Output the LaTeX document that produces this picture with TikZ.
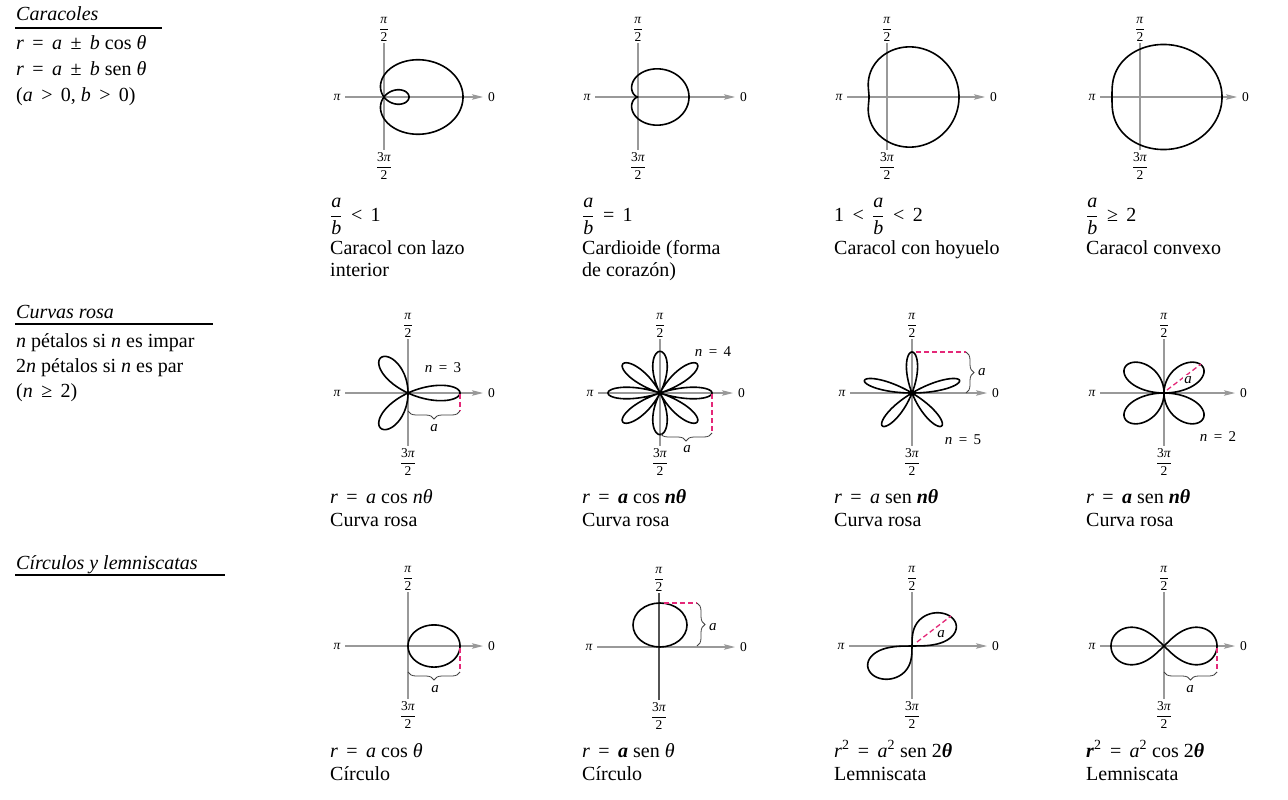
\documentclass[tikz,border=0pt]{standalone}
\usepackage{fix-cm}
\usepackage{amsmath}
\usepackage{fontspec}
\setmainfont{Liberation Serif}
\usetikzlibrary{arrows.meta,decorations.pathreplacing}
\definecolor{pk}{RGB}{228,40,120}
\newcommand{\vi}[1]{\textit{#1}}
\newcommand{\vb}[1]{\textbf{\textit{#1}}}
\newcommand{\sop}[1]{\hspace{0.42em}#1\hspace{0.42em}}
\newcommand{\fr}[2]{$\displaystyle\frac{\mbox{#1}}{\mbox{#2}}$}
\newcommand{\paxes}[5]{%
  \coordinate (#1o) at (#2,#3);
  \coordinate (#1l) at (#4,#3);
  \coordinate (#1r) at (#5,#3);
  \coordinate (#1t) at (#2,#3-54);
  \coordinate (#1b) at (#2,#3+53);
  \draw[axisline,-{Stealth[length=11pt,width=5.5pt,inset=2pt]}] (#1l) -- (#1r);
  \draw[axisline] (#1t) -- (#1b);
  \node[axlab,anchor=east] (#1pi) at ([xshift=-4pt]#1l) {\vi{π}};
  \node[axlab,anchor=west] (#1zero) at ([xshift=5pt]#1r) {0};
  \node[axlab,anchor=south] (#1top) at (#2,#3-55) {\fr{\vi{π}}{2}};
  \node[axlab,anchor=north] (#1bot) at (#2,#3+55) {\fr{3\vi{π}}{2}};
}
\newcommand{\polarplot}[4]{%
  \draw[curve] plot[domain=0:360,samples=361,variable=\t]
    ({#1+(#4)*cos(\t)},{#2-#3*(#4)*sin(\t)}) -- cycle;
}
\tikzset{
  axisline/.style={draw=gray!80, line width=1.1pt},
  curve/.style={draw=black, line width=1.6pt, line join=round},
  pinkd/.style={draw=pk, line width=1.3pt, dash pattern=on 5pt off 3pt},
  bracestyle/.style={draw=gray!50!black, line width=0.8pt, decorate,
    decoration={brace, amplitude=8pt}},
  axlab/.style={inner sep=0pt, font=\fontsize{13.5}{15}\selectfont},
  txt/.style={inner sep=0pt, anchor=base west, font=\fontsize{20}{24}\selectfont},
  htxt/.style={inner sep=0pt, anchor=base west, font=\fontsize{20}{24}\selectfont\itshape},
  smalllab/.style={inner sep=0pt, font=\fontsize{15}{17}\selectfont},
}
\begin{document}
\begin{tikzpicture}[x=1pt,y=-1pt]
\useasboundingbox[fill=white] (0,0) rectangle (1288,800);

% ---------------- left column ----------------
\node[htxt] (h1) at (16,21) {Caracoles};
\draw[line width=1.1pt] (15,28) -- (162,28);
\node[txt] (l11) at (16,50) {\vi{r}\sop{=}\vi{a}\sop{±}\vi{b} cos \vi{θ}};
\node[txt] (l12) at (16,76) {\vi{r}\sop{=}\vi{a}\sop{±}\vi{b} sen \vi{θ}};
\node[txt] (l13) at (16,101) {(\vi{a}\sop{>}0, \vi{b}\sop{>}0)};

\node[htxt] (h2) at (16,318) {Curvas rosa};
\draw[line width=1.1pt] (15,324) -- (213,324);
\node[txt] (l21) at (16,347) {\vi{n} pétalos si \vi{n} es impar};
\node[txt] (l22) at (16,372) {2\vi{n} pétalos si \vi{n} es par};
\node[txt] (l23) at (16,397) {(\vi{n}\sop{≥}2)};

\node[htxt] (h3) at (16,569) {Círculos y lemniscatas};
\draw[line width=1.1pt] (15,575) -- (225,575);

% ---------------- row 1: caracoles ----------------
\paxes{A}{384}{97}{345}{483}
\polarplot{384}{97}{0.8}{27+52*cos(\t)}
\paxes{B}{638}{97}{595}{735}
\polarplot{638}{97}{0.85}{25.5+25.5*cos(\t)}
\paxes{C}{887}{97}{847}{985}
\polarplot{887}{97}{0.98}{45+27*cos(\t)}
\paxes{D}{1140}{97}{1100}{1237}
\polarplot{1140}{97}{0.87}{55+27*cos(\t)}

\node[txt] (fA) at (330,221) {\fr{\vi{a}}{\vi{b}}\sop{<}1};
\node[txt] (nA1) at (330,254) {Caracol con lazo};
\node[txt] (nA2) at (330,276) {interior};
\node[txt] (fB) at (582,221) {\fr{\vi{a}}{\vi{b}}\sop{=}1};
\node[txt] (nB1) at (582,254) {Cardioide (forma};
\node[txt] (nB2) at (582,276) {de corazón)};
\node[txt] (fC) at (834,221) {1\sop{<}\fr{\vi{a}}{\vi{b}}\sop{<}2};
\node[txt] (nC1) at (834,254) {Caracol con hoyuelo};
\node[txt] (fD) at (1086,221) {\fr{\vi{a}}{\vi{b}}\sop{≥}2};
\node[txt] (nD1) at (1086,254) {Caracol convexo};

% ---------------- row 2: rosas ----------------
\paxes{E}{408}{393}{345}{483}
\polarplot{408}{393}{0.8}{52*cos(3*\t)}
\coordinate (Etip) at (460,394);
\coordinate (Ebr) at (460,411);
\coordinate (Ebl) at (408,411);
\draw[pinkd] (Etip) -- (Ebr);
\draw[bracestyle] (Ebr) -- (Ebl);
\node[smalllab] (Ea) at (434,428) {\vi{a}};
\node[smalllab] (En) at (443,368) {\vi{n}\sop{=}3};

\paxes{F}{660}{393}{598}{733}
\polarplot{660}{393}{0.8}{52*cos(4*\t)}
\coordinate (Ftip) at (712,394);
\coordinate (Fbr) at (712,433);
\coordinate (Fbl) at (660,433);
\draw[pinkd] (Ftip) -- (Fbr);
\draw[bracestyle] (Fbr) -- (Fbl);
\node[smalllab] (Fa) at (687,449) {\vi{a}};
\node[smalllab] (Fn) at (713,352) {\vi{n}\sop{=}4};

\paxes{G}{912}{393}{850}{987}
\polarplot{912}{393}{0.82}{50*sin(5*\t)}
\coordinate (Gtip) at (916,352);
\coordinate (Gbt) at (966,352);
\coordinate (Gbb) at (966,393);
\draw[pinkd] (Gtip) -- (Gbt);
\draw[bracestyle] (Gbt) -- (Gbb);
\node[smalllab,anchor=west] (Ga) at (978,372) {\vi{a}};
\node[smalllab] (Gn) at (963,440) {\vi{n}\sop{=}5};

\paxes{H}{1164}{393}{1100}{1235}
\polarplot{1164}{393}{0.77}{52*sin(2*\t)}
\coordinate (Hs) at (1167,390);
\coordinate (He) at (1201,364);
\draw[pinkd] (Hs) -- (He);
\node[smalllab,fill=white,inner sep=1pt] (Ha) at (1188,380) {\vi{a}};
\node[smalllab] (Hn) at (1218,437) {\vi{n}\sop{=}2};

\node[txt] (fE) at (330,503) {\vi{r}\sop{=}\vi{a} cos \vi{nθ}};
\node[txt] (nE) at (330,526) {Curva rosa};
\node[txt] (fF) at (582,503) {\vi{r}\sop{=}\vb{a} cos \vb{nθ}};
\node[txt] (nF) at (582,526) {Curva rosa};
\node[txt] (fG) at (834,503) {\vi{r}\sop{=}\vi{a} sen \vb{nθ}};
\node[txt] (nG) at (834,526) {Curva rosa};
\node[txt] (fH) at (1086,503) {\vi{r}\sop{=}\vb{a} sen \vb{nθ}};
\node[txt] (nH) at (1086,526) {Curva rosa};

% ---------------- row 3: circulos y lemniscatas ----------------
\paxes{I}{408}{646}{345}{483}
\polarplot{408}{646}{0.81}{52*cos(\t)}
\coordinate (Itip) at (460,648);
\coordinate (Ibr) at (460,672);
\coordinate (Ibl) at (408,672);
\draw[pinkd] (Itip) -- (Ibr);
\draw[bracestyle] (Ibr) -- (Ibl);
\node[smalllab] (Ia) at (435,689) {\vi{a}};

\paxes{J}{659}{647}{597}{735}
\draw[axisline, draw=gray!65!black, line width=2.6pt] (Jt) -- (Jb);
\draw[curve] (660,625) ellipse [x radius=27, y radius=22];
\coordinate (Jtip) at (664,603);
\coordinate (Jbt) at (697,603);
\coordinate (Jbb) at (697,646);
\draw[pinkd] (Jtip) -- (Jbt);
\draw[bracestyle] (Jbt) -- (Jbb);
\node[smalllab,anchor=west] (Ja) at (709,627) {\vi{a}};

\paxes{K}{912}{646}{849}{987}
\polarplot{912}{646}{0.75}{55*sqrt(max(0,sin(2*\t)))}
\coordinate (Ks) at (917,642);
\coordinate (Ke) at (951,616);
\draw[pinkd] (Ks) -- (Ke);
\node[smalllab,fill=white,inner sep=1pt] (Ka) at (941,634) {\vi{a}};

\paxes{L}{1164}{646}{1100}{1235}
\polarplot{1164}{646}{1}{53*sqrt(max(0,cos(2*\t)))}
\coordinate (Ltip) at (1217,648);
\coordinate (Lbr) at (1217,672);
\coordinate (Lbl) at (1164,672);
\draw[pinkd] (Ltip) -- (Lbr);
\draw[bracestyle] (Lbr) -- (Lbl);
\node[smalllab] (La) at (1190,689) {\vi{a}};

\node[txt] (fI) at (330,757) {\vi{r}\sop{=}\vi{a} cos \vi{θ}};
\node[txt] (nI) at (330,780) {Círculo};
\node[txt] (fJ) at (582,757) {\vi{r}\sop{=}\vb{a} sen \vi{θ}};
\node[txt] (nJ) at (582,780) {Círculo};
\node[txt] (fK) at (834,757) {\vi{r}\textsuperscript{2}\sop{=}\vi{a}\textsuperscript{2} sen 2\vb{θ}};
\node[txt] (nK) at (834,780) {Lemniscata};
\node[txt] (fL) at (1086,757) {\vb{r}\textsuperscript{2}\sop{=}\vi{a}\textsuperscript{2} cos 2\vb{θ}};
\node[txt] (nL) at (1086,780) {Lemniscata};
\end{tikzpicture}
\end{document}
